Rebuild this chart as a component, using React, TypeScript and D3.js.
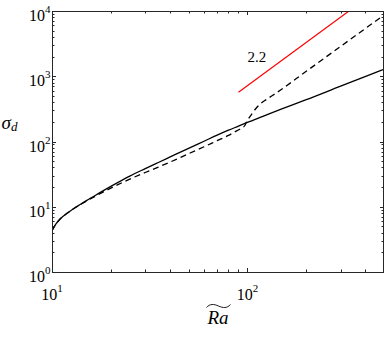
import React from 'react';
import * as d3 from 'd3';

// values (log-log)
const raSolid = [10, 10.5, 11, 12, 13, 14, 15, 17, 20, 25, 30, 35, 40, 50, 60, 70, 80, 90, 100, 120, 150, 200, 300, 400, 500];
const sigmaSolid = [4.3, 5.5, 6.5, 8.0, 9.5, 10.9, 12.4, 15.5, 20.5, 29.5, 38.4, 47.7, 57.5, 78.6, 101, 125, 149, 172, 196, 243, 316, 437, 705, 985, 1280];

const raDashed = [10, 10.5, 11, 12, 13, 14, 15, 17, 20, 25, 30, 35, 40, 50, 60, 70, 80, 86, 91, 95, 97, 98.5, 101, 105, 110, 115, 125, 140, 200, 300, 400, 500];
const sigmaDashed = [4.3, 5.5, 6.5, 8.0, 9.5, 10.8, 12.2, 15.0, 19.3, 26.5, 33.5, 40.5, 48, 65, 83, 103, 124, 140, 153, 165, 176, 195, 220, 260, 315, 365, 440, 550, 1190, 2870, 5350, 8650];

const raRed = [90, 331];
const sigmaRed = [570, 10000];

const xMajor = [10, 100];
const xMajorExp = ['1', '2'];
const yMajor = [1, 10, 100, 1000, 10000];
const yMajorExp = ['0', '1', '2', '3', '4'];
const slopeLabel = '2.2';

const W = 385, H = 338;
const left = 52, right = 384, top = 11, bottom = 272;
const axisColor = '#262626';
const txt = { fontFamily: "'Liberation Serif'" };

function zip(xs: number[], ys: number[]): [number, number][] {
  return xs.map((x, i) => [x, ys[i]]);
}

export default function App() {
  const x = d3.scaleLog().domain([10, 500]).range([left, right]);
  const y = d3.scaleLog().domain([1, 10000]).range([bottom, top]);

  const line = d3.line<[number, number]>()
    .x(d => x(d[0]))
    .y(d => y(d[1]))
    .curve(d3.curveMonotoneX);

  const xMinor: number[] = [];
  for (const dec of [10, 100]) {
    for (let k = 2; k <= 9; k++) {
      const v = dec * k;
      if (v < 500) xMinor.push(v);
    }
  }
  const yMinor: number[] = [];
  for (const dec of [1, 10, 100, 1000]) {
    for (let k = 2; k <= 9; k++) yMinor.push(dec * k);
  }

  const majLen = 4, minLen = 2.5;

  return (
    <svg width={W} height={H} style={{ position: 'absolute', left: 0, top: 0, background: '#fff' }}>
      <defs>
        <clipPath id="plot">
          <rect x={left} y={top} width={right - left} height={bottom - top} />
        </clipPath>
      </defs>

      <g clipPath="url(#plot)" fill="none">
        <path d={line(zip(raSolid, sigmaSolid)) || ''} stroke="#000" strokeWidth={1.3} />
        <path d={line(zip(raDashed, sigmaDashed)) || ''} stroke="#000" strokeWidth={1.3} strokeDasharray="6,4" />
        <path d={line(zip(raRed, sigmaRed)) || ''} stroke="#ff0000" strokeWidth={1.2} />
      </g>

      <text x={247.5} y={62} fontSize={15} fill="#000" style={txt}>{slopeLabel}</text>

      {/* ticks on all four sides, pointing in */}
      <g stroke={axisColor} strokeWidth={1}>
        {xMajor.concat(xMinor).map((v, i) => {
          const len = i < xMajor.length ? majLen : minLen;
          const px = Math.round(x(v)) + 0.5;
          return (
            <g key={'xt' + i}>
              <line x1={px} x2={px} y1={bottom} y2={bottom - len} />
              <line x1={px} x2={px} y1={top} y2={top + len} />
            </g>
          );
        })}
        {yMajor.concat(yMinor).map((v, i) => {
          const len = i < yMajor.length ? majLen : minLen;
          const py = Math.round(y(v)) + 0.5;
          return (
            <g key={'yt' + i}>
              <line x1={left} x2={left + len} y1={py} y2={py} />
              <line x1={right} x2={right - len} y1={py} y2={py} />
            </g>
          );
        })}
        <rect x={left + 0.5} y={top + 0.5} width={right - left - 1} height={bottom - top} fill="none" />
      </g>

      {/* x tick labels */}
      {xMajor.map((v, i) => (
        <text key={'xl' + i} x={x(v)} y={300} fontSize={16} textAnchor="middle" fill="#000" style={txt}>
          10<tspan fontSize={11} dy={-8}>{xMajorExp[i]}</tspan>
        </text>
      ))}

      {/* y tick labels */}
      {yMajor.map((v, i) => (
        <text key={'yl' + i} x={50.5} y={y(v) + 10} fontSize={16} textAnchor="end" fill="#000" style={txt}>
          10<tspan fontSize={11} dy={-8}>{yMajorExp[i]}</tspan>
        </text>
      ))}

      {/* x axis label: Ra with wide tilde */}
      <text x={218} y={324} fontSize={19} fontStyle="italic" textAnchor="middle" fill="#000" style={txt}>Ra</text>
      <path d="M206.5,307.5 C210,303.5 214,304 218.5,306 C223,308 227,308.5 230.5,304.5" fill="none" stroke="#000" strokeWidth={0.9} />

      {/* y axis label */}
      <text x={1.5} y={128.5} fontSize={19} fontStyle="italic" fill="#000" style={txt}>
        σ<tspan fontSize={13} dy={2}>d</tspan>
      </text>
    </svg>
  );
}
